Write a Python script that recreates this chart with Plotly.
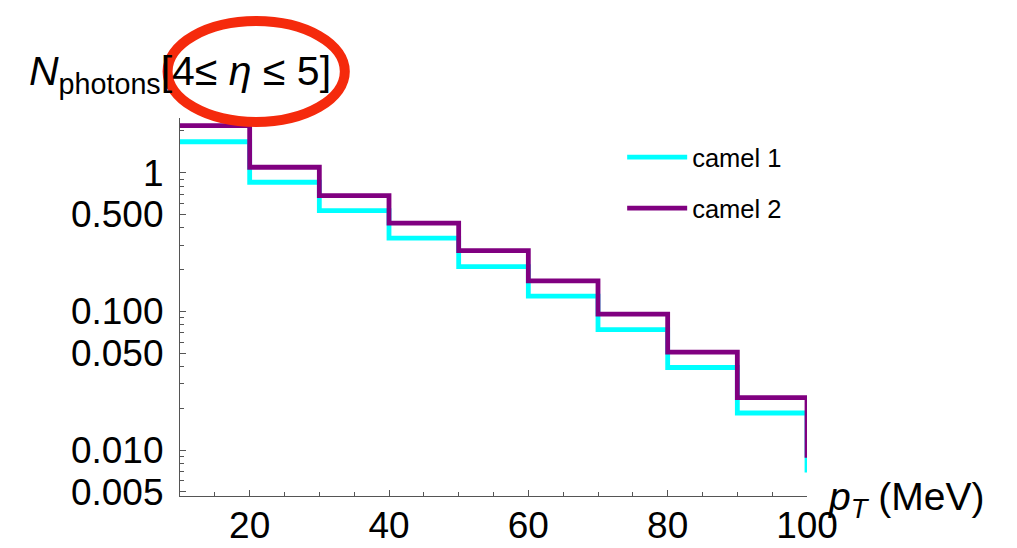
import plotly.graph_objects as go

# Photon pT spectrum, 4 <= eta <= 5, two "camel" samples (10 MeV bins)
bin_edges = [10, 20, 30, 40, 50, 60, 70, 80, 90, 100]
camel1 = [1.67, 0.853, 0.532, 0.337, 0.210, 0.129, 0.0739, 0.0394, 0.0185]
camel2 = [2.18, 1.094, 0.683, 0.432, 0.274, 0.166, 0.0955, 0.0508, 0.0239]
# value reached by each step line at the closing edge (100 MeV)
camel1_end = 0.0069
camel2_end = 0.0088

y_tickvals = [0.005, 0.01, 0.05, 0.1, 0.5, 1]
y_ticktext = ["0.005", "0.010", "0.050", "0.100", "0.500", "1"]
x_tickvals = [20, 40, 60, 80, 100]

W, H = 1017, 548
ML, MR, MT, MB = 180.4, 210.4, 118, 51.7
PW, PH = W - ML - MR, H - MT - MB


def px(xp):
    return (xp - ML) / PW


def py(yp):
    return (H - MB - yp) / PH


# minor log ticks: 2..9 within each decade
y_minor = [m * 10 ** e for e in range(-3, 1) for m in range(2, 10)]
y_minor = [v for v in y_minor if 0.0047 < v < 2.5 and v not in y_tickvals]
x_minor = [v for v in range(15, 100, 5) if v not in x_tickvals]

FONT = "Liberation Sans, Arial, Helvetica, sans-serif"

fig = go.Figure()
fig.add_trace(go.Scatter(
    x=bin_edges, y=camel1 + [camel1_end], mode="lines", name="camel 1",
    legendgroup="c1",
    line=dict(shape="hv", color="#00FFFF", width=4.8),
))
fig.add_trace(go.Scatter(
    x=bin_edges, y=camel2 + [camel2_end], mode="lines", name="camel 2",
    legendgroup="c2",
    line=dict(shape="hv", color="#800080", width=4.8),
))

axis_line = "#555555"
fig.update_xaxes(
    range=[10, 100], showgrid=False, zeroline=False, automargin=False,
    showline=True, linecolor=axis_line, linewidth=1.2,
    tickvals=x_tickvals, ticks="inside", ticklen=6, tickcolor=axis_line,
    tickfont=dict(family=FONT, size=37, color="black"),
    ticklabelstandoff=-4,
    minor=dict(tickvals=x_minor, ticks="inside", ticklen=4, tickcolor=axis_line),
)
fig.update_yaxes(
    type="log", range=[-2.331, 0.394], showgrid=False, zeroline=False,
    automargin=False,
    showline=True, linecolor=axis_line, linewidth=1.2,
    tickvals=y_tickvals, ticktext=y_ticktext,
    ticks="inside", ticklen=6, tickcolor=axis_line,
    tickfont=dict(family=FONT, size=37, color="black"),
    ticklabelstandoff=8,
    minor=dict(tickvals=y_minor, ticks="inside", ticklen=4, tickcolor=axis_line),
)

fig.add_annotation(
    xref="paper", yref="paper", x=px(28), y=py(74), xanchor="left", yanchor="middle",
    text="<i>N</i><sub>photons</sub>[4≤ <i>η</i> ≤ 5]", showarrow=False,
    font=dict(family=FONT, size=41, color="black"),
)
fig.add_annotation(
    xref="paper", yref="paper", x=px(826), y=py(500), xanchor="left", yanchor="middle",
    text="<i>p</i><sub><i>T</i></sub> (MeV)", showarrow=False,
    font=dict(family=FONT, size=39, color="black"),
)

# highlight ring around the pseudorapidity window
fig.add_shape(
    type="circle", xref="paper", yref="paper",
    x0=px(168), x1=px(345), y0=py(122), y1=py(21),
    line=dict(color="#F52A0C", width=10),
)

fig.update_layout(
    width=W, height=H,
    margin=dict(l=ML, r=MR, t=MT, b=MB, pad=0, autoexpand=False),
    paper_bgcolor="white", plot_bgcolor="white",
    showlegend=True,
    legend=dict(
        x=px(622), y=py(134), xanchor="left", yanchor="top",
        font=dict(family=FONT, size=25.5, color="black"),
        bgcolor="rgba(0,0,0,0)", tracegroupgap=15, itemwidth=60,
    ),
)

fig.write_html("out.html")
